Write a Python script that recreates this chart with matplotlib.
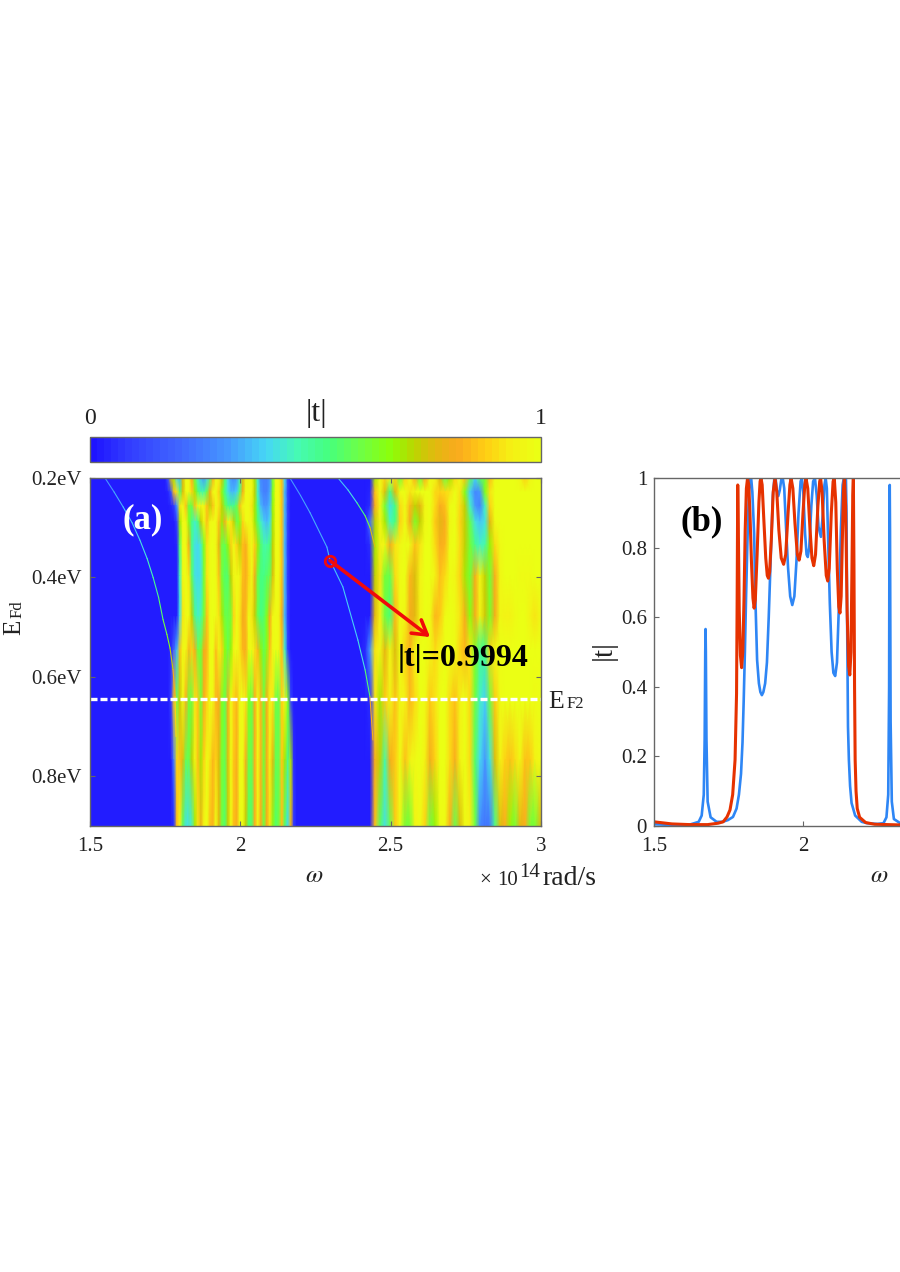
import matplotlib
matplotlib.use('Agg')
import matplotlib.pyplot as plt
from matplotlib.colors import LinearSegmentedColormap
import numpy as np

plt.rcParams['font.family'] = ['Liberation Serif', 'DejaVu Sans']

# EFd levels of the map rows
efd_rows = [0.2, 0.228, 0.256, 0.288, 0.334, 0.397, 0.478, 0.546, 0.647, 0.767, 0.9]

# omega columns of the map
omega_left = [1.5, 1.633, 1.699]
omega_band1 = [1.749, 1.759, 1.769, 1.779, 1.789, 1.799, 1.809, 1.819, 1.829, 1.839, 1.849, 1.859,
               1.869, 1.879, 1.889, 1.899, 1.909, 1.919, 1.929, 1.939, 1.949, 1.959, 1.969, 1.978,
               1.988, 1.998, 2.008, 2.018, 2.028, 2.038, 2.048, 2.058, 2.068, 2.078, 2.088, 2.098,
               2.108, 2.118, 2.128, 2.138, 2.148, 2.158, 2.168, 2.178, 2.188, 2.198]
omega_mid = [2.265, 2.331]
omega_band2 = [2.398, 2.415, 2.431, 2.448, 2.465, 2.481, 2.498, 2.515, 2.531, 2.548, 2.564, 2.581,
               2.598, 2.614, 2.631, 2.648, 2.664, 2.681, 2.697, 2.714, 2.731, 2.747, 2.764, 2.781,
               2.797, 2.814, 2.830, 2.847, 2.864, 2.880, 2.897, 2.914, 2.930, 2.947, 2.964, 2.980, 3.0]

# |t| in percent, one list per EFd row
band1_t = [
    [3, 15, 75, 70, 40, 35, 75, 97, 98, 82, 60, 45, 35, 30, 38, 55, 82, 98, 96, 75, 55, 40, 30, 28, 30, 45, 75, 96, 98, 96, 70, 45, 28, 25, 25, 30, 60, 98, 98, 85, 40, 10, 3, 2, 2, 2],
    [2, 4, 15, 85, 92, 55, 75, 98, 98, 88, 70, 55, 48, 48, 58, 80, 97, 98, 88, 65, 50, 42, 35, 35, 38, 55, 80, 97, 98, 97, 72, 45, 30, 25, 25, 32, 65, 98, 98, 85, 35, 10, 3, 2, 2, 2],
    [2, 2, 4, 8, 30, 92, 98, 85, 60, 60, 85, 97, 96, 98, 85, 72, 85, 98, 92, 72, 60, 52, 50, 50, 58, 85, 96, 98, 98, 92, 70, 50, 35, 30, 30, 35, 68, 97, 98, 85, 35, 10, 3, 2, 2, 2],
    [2, 2, 2, 2, 10, 70, 98, 96, 65, 50, 45, 52, 72, 96, 85, 96, 98, 98, 85, 70, 82, 97, 92, 72, 58, 65, 88, 97, 98, 96, 70, 55, 45, 38, 35, 40, 70, 97, 98, 85, 35, 10, 3, 2, 2, 2],
    [2, 2, 2, 2, 4, 55, 97, 98, 80, 50, 42, 40, 45, 65, 92, 97, 99, 96, 78, 60, 58, 68, 88, 97, 88, 72, 85, 82, 92, 98, 88, 70, 55, 48, 48, 52, 72, 97, 98, 85, 35, 8, 3, 2, 2, 2],
    [2, 2, 2, 2, 3, 45, 96, 99, 92, 55, 42, 40, 42, 62, 92, 98, 99, 97, 85, 62, 55, 55, 72, 96, 98, 96, 85, 82, 88, 98, 80, 60, 52, 52, 55, 58, 75, 97, 98, 85, 35, 8, 3, 2, 2, 2],
    [2, 2, 2, 2, 3, 40, 92, 98, 97, 72, 50, 45, 48, 62, 85, 97, 99, 98, 92, 70, 60, 58, 62, 88, 98, 92, 80, 83, 98, 92, 72, 58, 52, 55, 65, 80, 96, 98, 96, 80, 35, 8, 3, 2, 2, 2],
    [2, 2, 6, 20, 35, 85, 98, 96, 83, 88, 80, 60, 62, 80, 84, 98, 99, 85, 96, 88, 66, 58, 68, 96, 99, 92, 84, 82, 96, 99, 92, 84, 68, 58, 65, 85, 98, 99, 97, 85, 45, 10, 3, 2, 2, 2],
    [2, 2, 8, 85, 60, 72, 96, 82, 62, 60, 92, 86, 62, 82, 88, 99, 96, 84, 82, 65, 58, 80, 98, 88, 84, 96, 99, 92, 65, 60, 80, 97, 84, 62, 80, 96, 92, 60, 58, 88, 96, 65, 10, 3, 2, 2],
    [2, 2, 3, 25, 88, 85, 75, 58, 58, 72, 96, 85, 70, 88, 99, 92, 83, 88, 75, 62, 58, 75, 98, 86, 82, 97, 99, 82, 60, 58, 82, 97, 83, 61, 80, 95, 78, 58, 58, 86, 70, 50, 70, 6, 3, 2],
    [2, 2, 2, 6, 85, 96, 55, 42, 42, 45, 70, 92, 80, 96, 99, 85, 84, 99, 78, 60, 56, 72, 98, 85, 82, 98, 99, 72, 55, 56, 82, 96, 82, 60, 80, 92, 65, 55, 60, 85, 55, 40, 82, 8, 3, 2],
]
band2_t = [
    [2, 2, 3, 70, 97, 88, 98, 88, 62, 88, 98, 82, 62, 82, 98, 96, 75, 60, 70, 90, 98, 85, 58, 40, 55, 62, 85, 98, 99, 99, 99, 99, 96, 88, 96, 99, 99],
    [2, 2, 4, 85, 97, 75, 52, 78, 97, 99, 92, 96, 99, 99, 99, 90, 88, 90, 92, 99, 92, 65, 38, 28, 30, 65, 92, 99, 99, 99, 99, 99, 99, 99, 99, 99, 99],
    [2, 2, 5, 82, 96, 62, 42, 52, 90, 97, 84, 72, 78, 96, 99, 90, 82, 85, 97, 99, 90, 72, 45, 30, 25, 45, 88, 99, 99, 99, 99, 99, 99, 99, 99, 99, 99],
    [2, 2, 22, 72, 96, 70, 46, 52, 88, 97, 80, 64, 72, 96, 99, 86, 78, 82, 96, 99, 88, 72, 58, 42, 36, 42, 78, 97, 99, 99, 99, 99, 99, 99, 99, 99, 99],
    [2, 2, 5, 70, 94, 96, 80, 92, 96, 99, 97, 85, 92, 99, 99, 90, 82, 84, 97, 99, 90, 72, 62, 50, 44, 48, 68, 90, 98, 99, 99, 99, 99, 99, 99, 99, 99],
    [2, 2, 2, 72, 92, 62, 58, 90, 97, 99, 84, 76, 94, 99, 99, 95, 85, 90, 98, 96, 88, 70, 62, 80, 96, 72, 62, 82, 96, 99, 99, 99, 98, 97, 97, 99, 99],
    [2, 2, 2, 78, 94, 60, 54, 84, 98, 96, 80, 78, 94, 99, 98, 84, 86, 98, 99, 97, 92, 80, 66, 80, 96, 74, 64, 80, 96, 94, 94, 98, 99, 99, 95, 92, 98],
    [2, 6, 30, 92, 96, 78, 96, 76, 98, 88, 84, 94, 99, 99, 96, 90, 94, 99, 99, 97, 88, 84, 92, 64, 50, 52, 88, 98, 99, 99, 99, 99, 99, 99, 99, 99, 99],
    [2, 2, 5, 92, 70, 86, 96, 85, 96, 94, 84, 90, 99, 98, 86, 92, 99, 99, 90, 85, 94, 99, 90, 60, 45, 38, 60, 86, 98, 99, 99, 99, 99, 99, 99, 98, 99],
    [2, 2, 3, 82, 72, 48, 80, 86, 98, 85, 94, 97, 99, 94, 80, 88, 99, 99, 90, 82, 94, 99, 90, 55, 40, 30, 42, 75, 94, 88, 85, 90, 96, 85, 86, 94, 98],
    [2, 2, 2, 85, 55, 42, 58, 86, 97, 62, 62, 94, 98, 88, 60, 68, 98, 98, 82, 58, 75, 98, 94, 60, 28, 22, 24, 50, 75, 82, 68, 62, 78, 82, 62, 62, 78],
]
blue_floor = 2

# thin resonance branches in the stop bands
mode_a_omega = [1.55, 1.58, 1.61, 1.64, 1.666, 1.69, 1.71, 1.728, 1.743, 1.756, 1.766, 1.776, 1.783, 1.786]
mode_a_efd = [0.2, 0.228, 0.258, 0.29, 0.325, 0.362, 0.40, 0.44, 0.485, 0.515, 0.542, 0.585, 0.64, 0.72]
mode_a_t = [0.3, 0.33, 0.36, 0.38, 0.42, 0.46, 0.5, 0.55, 0.6, 0.65, 0.72, 0.8, 0.88, 0.9]
mode_b_omega = [2.165, 2.2, 2.232, 2.288, 2.298, 2.341, 2.391, 2.415, 2.431, 2.441]
mode_b_efd = [0.2, 0.235, 0.27, 0.339, 0.365, 0.419, 0.526, 0.586, 0.64, 0.727]
mode_b_t = [0.3, 0.32, 0.34, 0.35, 0.36, 0.38, 0.42, 0.55, 0.8, 0.85]
mode_c_omega = [2.325, 2.358, 2.388, 2.415, 2.431, 2.448]
mode_c_efd = [0.2, 0.224, 0.25, 0.276, 0.299, 0.339]
mode_c_t = [0.36, 0.42, 0.52, 0.62, 0.75, 0.88]

# spectra of panel (b)
blue_omega = [1.5, 1.56, 1.62, 1.65, 1.66, 1.667, 1.670, 1.672, 1.673, 1.674, 1.676, 1.68, 1.69, 1.71, 1.73, 1.748, 1.765,
              1.777, 1.785, 1.792, 1.797, 1.801, 1.805, 1.809, 1.813, 1.818, 1.822, 1.826, 1.83, 1.836, 1.84, 1.846, 1.852, 1.857, 1.862,
              1.867, 1.873, 1.879, 1.885, 1.892, 1.899, 1.904, 1.908, 1.912, 1.917, 1.922, 1.927, 1.932, 1.937, 1.943, 1.950,
              1.957, 1.964, 1.971, 1.978, 1.985, 1.992, 1.996, 2.001, 2.007, 2.012, 2.016, 2.021, 2.028, 2.034, 2.04, 2.046,
              2.052, 2.06, 2.066, 2.072, 2.076, 2.08, 2.085, 2.09, 2.096, 2.102, 2.108, 2.114, 2.12, 2.127, 2.133, 2.137,
              2.144, 2.146, 2.148, 2.151, 2.154, 2.158, 2.163, 2.175, 2.197, 2.215, 2.25, 2.27, 2.28, 2.286, 2.289, 2.290, 2.291,
              2.292, 2.294, 2.298, 2.305, 2.33]
blue_t = [0.005, 0.003, 0.004, 0.012, 0.03, 0.09, 0.25, 0.5, 0.566, 0.5, 0.25, 0.07, 0.025, 0.012, 0.012, 0.017, 0.026,
          0.05, 0.09, 0.15, 0.24, 0.36, 0.50, 0.66, 0.80, 0.95, 1.0, 1.0, 0.96, 0.84, 0.66, 0.477, 0.41, 0.385, 0.376,
          0.385, 0.41, 0.47, 0.6, 0.78, 0.95, 1.0, 1.0, 0.965, 0.948, 0.965, 0.995, 1.0, 0.97, 0.86, 0.74,
          0.66, 0.635, 0.66, 0.76, 0.9, 0.99, 1.0, 0.96, 0.84, 0.78, 0.773, 0.8, 0.92, 0.99, 1.0, 0.95,
          0.86, 0.831, 0.89, 0.98, 1.0, 0.97, 0.8, 0.64, 0.5, 0.44, 0.431, 0.47, 0.62, 0.85, 0.98, 1.0,
          1.0, 0.9, 0.6, 0.285, 0.19, 0.115, 0.066, 0.03, 0.012, 0.008, 0.006, 0.008, 0.025, 0.09, 0.4, 0.85, 0.98,
          0.85, 0.3, 0.07, 0.02, 0.006]
red_omega = [1.5, 1.56, 1.62, 1.68, 1.715, 1.732, 1.745, 1.755, 1.764, 1.772, 1.777, 1.779, 1.781, 1.783, 1.786, 1.790, 1.794,
             1.798, 1.802, 1.806, 1.810, 1.814, 1.818, 1.822, 1.827, 1.832, 1.836, 1.840, 1.846, 1.852, 1.856, 1.859, 1.863,
             1.868, 1.875, 1.880, 1.884, 1.888, 1.894, 1.900, 1.906, 1.912, 1.919, 1.927, 1.935, 1.942, 1.950, 1.956, 1.96,
             1.966, 1.973, 1.981, 1.987, 1.993, 2.0, 2.006, 2.01, 2.016, 2.023, 2.03, 2.036, 2.042, 2.05, 2.056, 2.059,
             2.064, 2.071, 2.078, 2.083, 2.088, 2.095, 2.101, 2.105, 2.11, 2.115, 2.12, 2.124, 2.128, 2.132, 2.136, 2.139,
             2.143, 2.148, 2.153, 2.157, 2.161, 2.164, 2.167, 2.169, 2.171, 2.173, 2.175, 2.178, 2.182, 2.19, 2.21, 2.24, 2.33]
red_t = [0.012, 0.006, 0.004, 0.004, 0.008, 0.012, 0.026, 0.046, 0.09, 0.19, 0.38, 0.65, 0.98, 0.85, 0.62, 0.49, 0.455,
         0.5, 0.65, 0.85, 0.97, 1.0, 0.98, 0.9, 0.76, 0.655, 0.626, 0.65, 0.78, 0.93, 0.99, 1.0, 0.98,
         0.89, 0.77, 0.72, 0.712, 0.73, 0.83, 0.96, 1.0, 0.96, 0.85, 0.77, 0.752, 0.78, 0.9, 0.98, 1.0,
         0.97, 0.87, 0.78, 0.764, 0.79, 0.9, 0.98, 1.0, 0.97, 0.86, 0.77, 0.748, 0.78, 0.92, 0.99, 1.0,
         0.96, 0.82, 0.72, 0.704, 0.74, 0.9, 0.99, 1.0, 0.93, 0.74, 0.63, 0.612, 0.66, 0.82, 0.97, 1.0,
         0.92, 0.62, 0.46, 0.434, 0.5, 0.72, 0.95, 1.0, 0.75, 0.4, 0.19, 0.1, 0.05, 0.025, 0.01, 0.005, 0.003]

# annotation data
marker_omega, marker_efd = 2.298, 0.366
arrow_omega, arrow_efd = 2.631, 0.52
ef2_level = 0.645

map_colors = [(0.0, (30, 20, 255)), (0.08, (50, 60, 255)), (0.2, (65, 105, 255)), (0.3, (70, 150, 255)),
              (0.39, (70, 215, 245)), (0.46, (70, 250, 180)), (0.53, (70, 255, 125)), (0.6, (110, 255, 70)),
              (0.67, (140, 255, 10)), (0.72, (185, 215, 0)), (0.77, (225, 185, 15)), (0.82, (250, 170, 30)),
              (0.88, (255, 205, 20)), (0.94, (245, 240, 20)), (1.0, (235, 255, 20))]
cmap = LinearSegmentedColormap.from_list(
    'tmap', [(v, tuple(c / 255 for c in rgb)) for v, rgb in map_colors], N=64)

W, H = 900, 1272
GRAY = '#666666'
TXT = '#222222'


def box(x0, y0, x1, y1):
    # pixel box, y from the top, to figure fractions
    return [x0 / W, 1 - y1 / H, (x1 - x0) / W, (y1 - y0) / H]


def style(ax):
    for s in ax.spines.values():
        s.set_color(GRAY)
        s.set_linewidth(1.0)
    ax.tick_params(direction='in', length=3.6, width=0.8, color=GRAY, labelsize=15,
                   labelcolor=TXT, pad=6)


fig = plt.figure(figsize=(9, 12.72), dpi=100)

# panel (a)
ax = fig.add_axes(box(90, 478, 541, 826))
omega = np.array(omega_left + omega_band1 + omega_mid + omega_band2)
rows = []
for b1, b2 in zip(band1_t, band2_t):
    rows.append([blue_floor] * len(omega_left) + b1 + [blue_floor] * len(omega_mid) + b2)
t_map = np.array(rows) / 100
X, Y = np.meshgrid(omega, efd_rows)
mesh = ax.pcolormesh(X, Y, t_map, cmap=cmap, vmin=0, vmax=1, shading='gouraud', rasterized=True)
for mo, me, mt in [(mode_a_omega, mode_a_efd, mode_a_t),
                   (mode_b_omega, mode_b_efd, mode_b_t),
                   (mode_c_omega, mode_c_efd, mode_c_t)]:
    for i in range(len(mo) - 1):
        ax.plot(mo[i:i + 2], me[i:i + 2], color=cmap(mt[i]), lw=0.8, solid_capstyle='round')
ax.axhline(ef2_level, color='white', lw=2.4, dashes=(2.1, 0.9))
ax.annotate('', xy=(arrow_omega, arrow_efd), xytext=(marker_omega, marker_efd),
            arrowprops=dict(arrowstyle='->,head_length=1.0,head_width=0.6', color='#F00A0A', lw=2.6,
                            shrinkA=0, shrinkB=0))
ax.plot([marker_omega], [marker_efd], 'o', mfc='none', mec='#F00A0A', mew=2, ms=7.5)
ax.set_xlim(1.5, 3)
ax.set_ylim(0.9, 0.2)
ax.set_xticks([1.5, 2, 2.5, 3])
ax.set_xticklabels(['1.5', '2', '2.5', '3'])
ax.set_yticks([0.2, 0.4, 0.6, 0.8])
ax.set_yticklabels(['0.2eV', '0.4eV', '0.6eV', '0.8eV'])
ax.xaxis.set_ticks_position('both')
ax.yaxis.set_ticks_position('both')
style(ax)
ax.tick_params(axis='x', pad=8)

# colour bar
cax = fig.add_axes(box(90, 437, 541, 462))
cb = fig.colorbar(mesh, cax=cax, orientation='horizontal')
cb.set_ticks([])
cb.outline.set_edgecolor(GRAY)
cb.outline.set_linewidth(1.0)


def label(px, py, s, **kw):
    kw.setdefault('ha', 'center')
    kw.setdefault('va', 'center')
    kw.setdefault('color', TXT)
    fig.text(px / W, 1 - py / H, s, **kw)


label(90, 418, '0', fontsize=17)
label(541, 418, '1', fontsize=17)
label(316, 414, '|t|', fontsize=23)
label(143, 520, '(a)', fontsize=25, fontweight='bold', color='white')
label(463, 658, '|t|=0.9994', fontsize=23, fontweight='bold', color='black')
label(314, 876, r'$\omega$', fontsize=18, math_fontfamily='stix')
label(479, 885, '\u00d7', fontsize=15, ha='left', va='baseline')
label(497, 885, '10', fontsize=15, ha='left', va='baseline')
label(519, 877, '14', fontsize=15, ha='left', va='baseline')
label(542, 885, 'rad/s', fontsize=20, ha='left', va='baseline')
label(548, 708, 'E', fontsize=18.5, ha='left', va='baseline')
label(567, 708, 'F2', fontsize=12, ha='left', va='baseline')
label(14, 627, 'E', fontsize=18, rotation=90, va='center', ha='center')
label(18, 609, 'Fd', fontsize=12, rotation=90, va='center', ha='center')

# panel (b), the sheet cuts it off at the right edge
bx = fig.add_axes(box(654, 478, 900, 826))
bx.plot(blue_omega, blue_t, color='#2E86F5', lw=1.9, solid_joinstyle='round')
bx.plot(red_omega, red_t, color='#E63200', lw=2.2, solid_joinstyle='round')
bx.set_xlim(1.5, 2.3255)
bx.set_ylim(0, 1)
bx.set_xticks([1.5, 2])
bx.set_xticklabels(['1.5', '2'])
bx.set_yticks([0, 0.2, 0.4, 0.6, 0.8, 1])
bx.set_yticklabels(['0', '0.2', '0.4', '0.6', '0.8', '1'])
bx.spines['right'].set_visible(False)
style(bx)
bx.tick_params(axis='x', pad=8)
bx.tick_params(axis='y', pad=5)
label(702, 522, '(b)', fontsize=25, fontweight='bold', color='black')
label(604, 650, '|t|', fontsize=21, rotation=90)
label(879, 876, r'$\omega$', fontsize=18, math_fontfamily='stix')

fig.savefig('out.png', dpi=100)
